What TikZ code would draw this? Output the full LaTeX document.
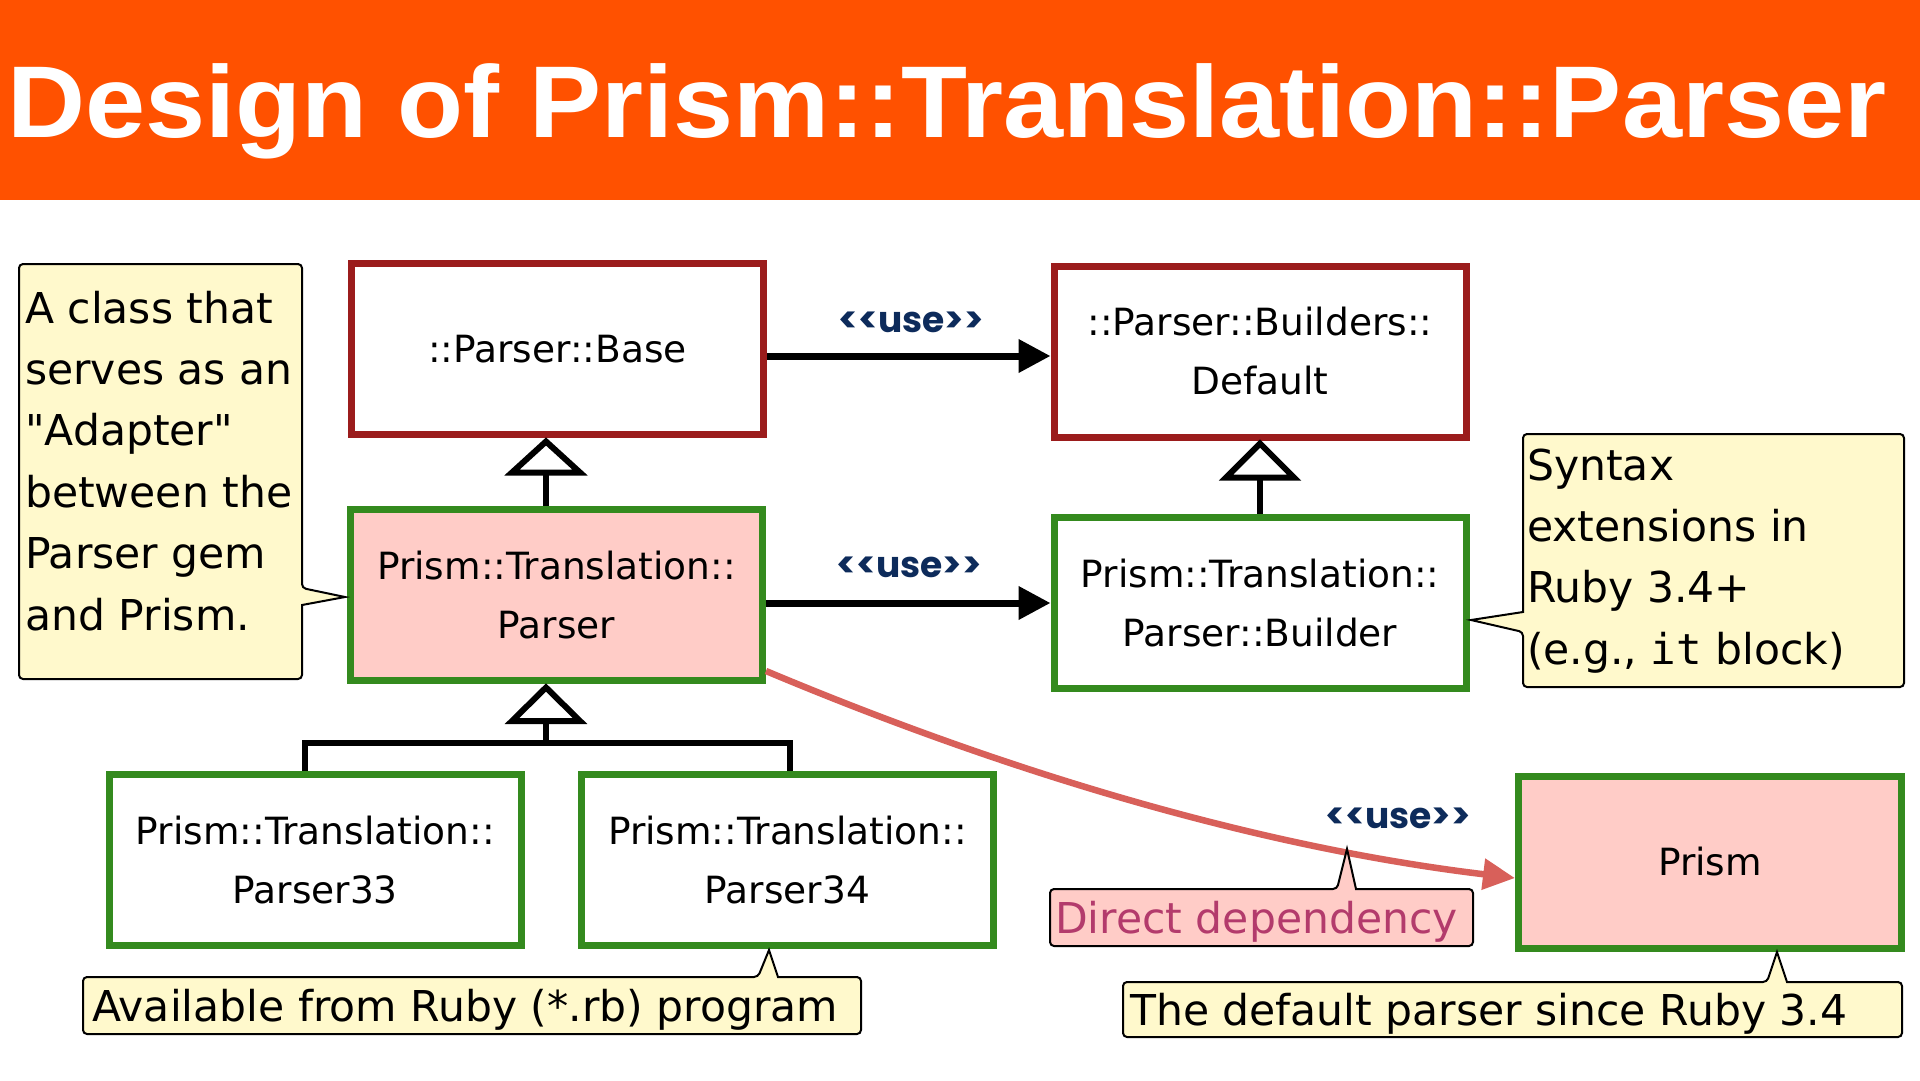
\documentclass[tikz,border=0pt]{standalone}
\usepackage{fontspec}
\usepackage{graphicx}
\setmainfont{DejaVu Sans}[Ligatures=TeXOff]
\newfontfamily\titlefont{Liberation Sans}[Ligatures=TeXOff]
\newfontfamily\usefnt{Poppins}[Ligatures=TeXOff]
\newfontfamily\monofnt{DejaVu Sans Mono}[Ligatures=TeXOff]
\usetikzlibrary{arrows.meta,calc}
\definecolor{orangebar}{HTML}{FF5100}
\definecolor{darkred}{HTML}{9B1C1C}
\definecolor{dgreen}{HTML}{348A1E}
\definecolor{pinkfill}{HTML}{FFCCC7}
\definecolor{cyellow}{HTML}{FFF9CC}
\definecolor{depred}{HTML}{D8605A}
\definecolor{navy}{HTML}{0D2B5B}
\definecolor{deptext}{HTML}{B33B6C}
\tikzset{
  cls/.style={draw, line width=7pt, minimum width=412pt, minimum height=171pt,
    inner sep=0pt, align=center, font=\fontsize{37.5}{59}\selectfont},
  abstr/.style={cls, draw=darkred, fill=white},
  conc/.style={cls, draw=dgreen, fill=white},
  hl/.style={cls, draw=dgreen, fill=pinkfill},
  usel/.style={font=\usefnt\bfseries\fontsize{36}{36}\selectfont, text=navy, inner sep=0pt},
  usearrow/.style={line width=7pt, -{Triangle[length=32pt,width=32pt]}},
  inh/.style={line width=6pt, line join=miter},
  cbox/.style={draw=black, line width=2pt, fill=cyellow, rounded corners=4pt},
  ctext/.style={font=\fontsize{42.5}{61.4}\selectfont, inner sep=0pt, anchor=base west},
  dep/.style={draw=depred, line width=6.5pt, -{Triangle[length=32pt,width=30pt]}},
}
\begin{document}
\begin{tikzpicture}[x=1pt,y=-1pt]
\useasboundingbox (0,0) rectangle (1920,1080);
\fill[white] (0,0) rectangle (1920,1080);
\fill[orangebar] (0,0) rectangle (1920,200);
\node[anchor=base west, inner sep=0pt, text=white] (title) at (7,137)
  {\resizebox{1879pt}{\height}{\titlefont\bfseries\fontsize{102}{102}\selectfont Design of Prism::Translation::Parser}};

% class boxes
\node[abstr] (base) at (557.5,349) {::Parser::Base};
\node[abstr] (builders) at (1260,351.5) {::Parser::Builders::\\Default};
\node[hl] (parser) at (556.5,595) {Prism::Translation::\\Parser};
\node[conc] (builder) at (1260,603) {Prism::Translation::\\Parser::Builder};
\node[conc] (p33) at (315.3,860) {Prism::Translation::\\Parser33};
\node[conc] (p34) at (787.4,860) {Prism::Translation::\\Parser34};
\node[hl, minimum width=383pt, minimum height=172pt] (prism) at (1710,862) {Prism};

% use arrows
\coordinate (a1e) at ($(builders.west)+(0,4.5)$);
\draw[usearrow] (base.east |- a1e) -- (a1e);
\draw[usearrow] (parser.east |- builder.west) -- (builder.west);
\node[usel] (u1) at (911,322) {<<use>>};
\node[usel] (u2) at (909,567) {<<use>>};

% inheritance Base <- Parser
\coordinate (t1) at ($(base.south)+(-11.5,0)$);
\draw[inh] ($(t1)+(0,34.5)$) -- (t1 |- parser.north);
\draw[inh, fill=white] ($(t1)+(0,3.5)$) -- ($(t1)+(-34,34.5)$) -- ($(t1)+(34,34.5)$) -- cycle;

% inheritance Builders <- Builder
\coordinate (t2) at (builders.south);
\draw[inh] ($(t2)+(0,37)$) -- (builder.north);
\draw[inh, fill=white] ($(t2)+(0,3)$) -- ($(t2)+(-34,37)$) -- ($(t2)+(34,37)$) -- cycle;

% inheritance Parser <- Parser33, Parser34
\coordinate (t3) at ($(parser.south)+(-10.5,0)$);
\coordinate (bar) at ($(t3)+(0,58.5)$);
\draw[inh] ($(t3)+(0,37)$) -- (bar);
\draw[inh] ($(p33.north)+(-10,0)$) |- (bar) -| ($(p34.north)+(2.6,0)$);
\draw[inh, fill=white] ($(t3)+(0,3.5)$) -- ($(t3)+(-34,37)$) -- ($(t3)+(34,37)$) -- cycle;

% direct dependency
\draw[dep] ($(parser.south east)+(0,-13)$) .. controls +(250,105) and +(-250,-30) .. ($(prism.west)+(0,16)$);
\node[usel] (u3) at (1398,818) {<<use>>};

% callouts
\draw[cbox] (19,264) -- (302,264) -- (302,588) [sharp corners] -- (345,597) -- (302,605) [rounded corners=4pt] -- (302,679) -- (19,679) -- cycle;
\node[ctext] (ltext) at (25,323) {\parbox[t]{280pt}{\raggedright A class that\\serves as an\\"Adapter"\\between the\\Parser gem\\and Prism.}};

\draw[cbox] (1523,434) -- (1904,434) -- (1904,687) -- (1523,687) -- (1523,632) [sharp corners] -- (1471,620) -- (1523,612) [rounded corners=4pt] -- cycle;
\node[ctext] (rtext) at (1527,480) {\parbox[t]{376pt}{\raggedright Syntax\\extensions in\\Ruby 3.4+\\(e.g., {\monofnt it} block)}};

\draw[cbox] (83,977) -- (758,977) [sharp corners] -- (769,950) -- (778,977) [rounded corners=4pt] -- (861,977) -- (861,1034) -- (83,1034) -- cycle;
\node[ctext] (bltext) at (92,1021) {Available from Ruby (*.rb) program};

\draw[cbox] (1123,982) -- (1767,982) [sharp corners] -- (1777,952) -- (1787,982) [rounded corners=4pt] -- (1902,982) -- (1902,1037) -- (1123,1037) -- cycle;
\node[ctext] (brtext) at (1130,1025) {The default parser since Ruby 3.4};

\draw[cbox, fill=pinkfill] (1050,889) -- (1337,889) [sharp corners] -- (1347,849) -- (1356,889) [rounded corners=4pt] -- (1473,889) -- (1473,946) -- (1050,946) -- cycle;
\node[ctext, text=deptext] (ddtext) at (1055,933) {Direct dependency};
\end{tikzpicture}
\end{document}
